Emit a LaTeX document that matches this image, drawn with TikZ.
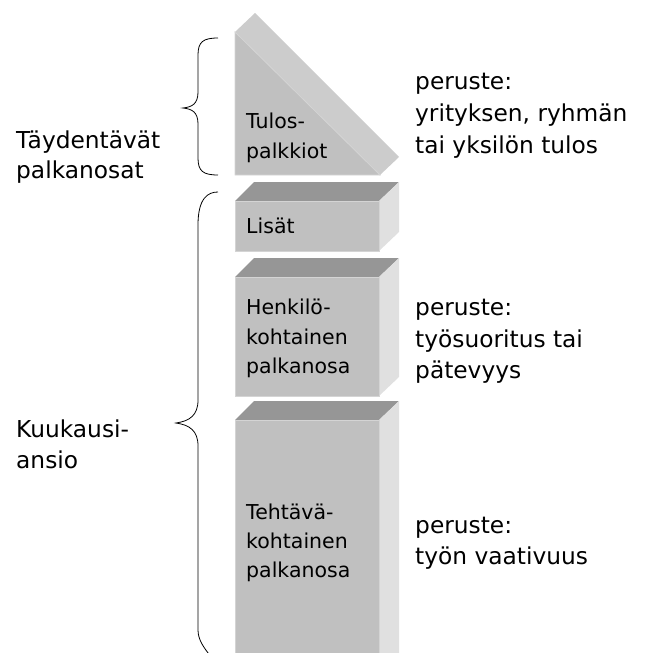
\documentclass[tikz,border=0pt]{standalone}
\usepackage{fontspec}
\setmainfont{DejaVu Sans}
\definecolor{frontc}{HTML}{C0C0C0}
\definecolor{topc}{HTML}{969696}
\definecolor{sidec}{HTML}{E0E0E0}
\definecolor{slantc}{HTML}{CCCCCC}
\definecolor{edgec}{HTML}{D4D4D4}
\begin{document}
\begin{tikzpicture}[x=1pt,y=-1pt,
  front/.style={fill=frontc,draw=edgec,line width=0.8pt},
  topface/.style={fill=topc},
  sideface/.style={fill=sidec},
  lbl/.style={anchor=base west,inner sep=0pt,font=\fontsize{23.3}{32}\selectfont},
  boxlbl/.style={anchor=base west,inner sep=0pt,font=\fontsize{20.5}{29}\selectfont},
  brace/.style={draw=black,line width=0.8pt}]
\useasboundingbox (0,0) rectangle (651,653);
\begin{scope}
\clip (0,0) rectangle (651,653);
% triangle
\fill[slantc] (235,32) -- (255,13) -- (399,157) -- (380,175) -- cycle;
\draw[edgec,line width=0.8pt] (235,32) -- (380,175);
\filldraw[front] (235,32) -- (235,175) -- (380,175) -- cycle;
% Lisat box
\fill[topface] (235,201) -- (254,182) -- (399,182) -- (379,201) -- cycle;
\fill[sideface] (379,201) -- (399,182) -- (399,232) -- (379,251) -- cycle;
\filldraw[front] (235,201) rectangle (379,251);
% Henkilo box
\fill[topface] (235,277) -- (254,258) -- (399,258) -- (379,277) -- cycle;
\fill[sideface] (379,277) -- (399,258) -- (399,377) -- (379,396) -- cycle;
\filldraw[front] (235,277) rectangle (379,396);
% Tehtava box
\fill[topface] (235,420) -- (254,401) -- (399,401) -- (379,420) -- cycle;
\fill[sideface] (379,420) -- (399,401) -- (399,660) -- (379,680) -- cycle;
\filldraw[front] (235,420) rectangle (379,680);
% braces
\draw[brace] (218,38) .. controls (203,38) and (198,42) .. (198,55)
  -- (198,92) .. controls (198,104) and (192,107) .. (183,108)
  .. controls (192,109) and (198,112) .. (198,124)
  -- (198,158) .. controls (198,171) and (203,175) .. (218,175);
\draw[brace] (218,192) .. controls (208,192) and (198,198) .. (198,225)
  -- (198,400) .. controls (198,415) and (190,421) .. (176,423)
  .. controls (190,425) and (198,431) .. (198,446)
  -- (198,630) .. controls (198,640) and (204,648) .. (212,658);
\end{scope}
% box texts
\node[boxlbl] (t1) at (246,128) {Tulos-};
\node[boxlbl] (t2) at (246,158) {palkkiot};
\node[boxlbl] (l1) at (246,233) {Lisät};
\node[boxlbl] (h1) at (246,314) {Henkilö-};
\node[boxlbl] (h2) at (246,344) {kohtainen};
\node[boxlbl] (h3) at (246,373) {palkanosa};
\node[boxlbl] (e1) at (246,519) {Tehtävä-};
\node[boxlbl] (e2) at (246,548) {kohtainen};
\node[boxlbl] (e3) at (246,577) {palkanosa};
% left labels
\node[lbl] (a1) at (16,148) {Täydentävät};
\node[lbl] (a2) at (16,178) {palkanosat};
\node[lbl] (k1) at (16,437) {Kuukausi-};
\node[lbl] (k2) at (16,468) {ansio};
% right labels
\node[lbl] (r1) at (415,89) {peruste:};
\node[lbl] (r2) at (415,121) {yrityksen, ryhmän};
\node[lbl] (r3) at (415,153) {tai yksilön tulos};
\node[lbl] (s1) at (415,315) {peruste:};
\node[lbl] (s2) at (415,347) {työsuoritus tai};
\node[lbl] (s3) at (415,378) {pätevyys};
\node[lbl] (u1) at (415,533) {peruste:};
\node[lbl] (u2) at (415,564) {työn vaativuus};
\end{tikzpicture}
\end{document}
